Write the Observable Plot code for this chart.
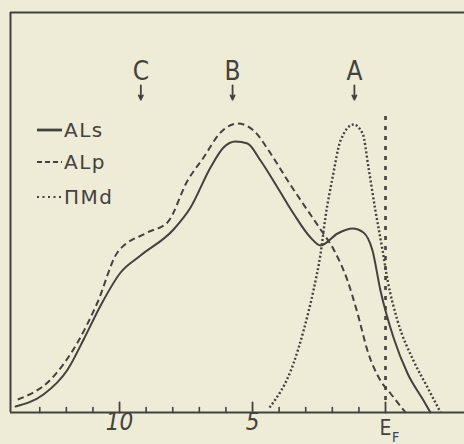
<!DOCTYPE html>
<html><head><meta charset="utf-8">
<script src="https://cdn.jsdelivr.net/npm/d3@7"></script>
<script src="https://cdn.jsdelivr.net/npm/@observablehq/plot@0.6"></script>
<style>
html,body{margin:0;padding:0;background:#eeebd7;}
#chart{width:464px;height:444px;}
</style></head><body><div id="chart"></div>
<script>
// Binding energy (eV below E_F) and intensity (arb. units)
const alsEnergy = [13.91,12.86,11.95,11.35,10.71,9.96,9.21,7.97,7.33,6.58,6.09,5.64,5.19,4.70,4.06,3.46,2.82,2.44,1.80,1.24,0.83,0.49,0.19,-0.30,-0.83,-1.43,-1.69];
const alsIntensity = [1.5,4.5,10.75,18.25,26.75,35,39.25,45.75,51.25,61.25,66.25,67.75,67.25,63,56.25,49.75,43.75,41.75,44.75,46,45,40.5,30.5,18.75,9.75,3,0];

const alpEnergy = [13.83,12.59,11.58,10.83,10.08,8.95,8.20,7.44,6.84,6.20,5.56,4.96,4.32,3.68,3.08,2.44,1.95,1.43,1.05,0.68,0.19,-0.19,-0.75];
const alpIntensity = [3.25,8.25,17.5,27.5,40,45,47.5,58,63.75,70,72.25,70.5,64.75,58,52,45.75,40.75,33,24.75,15.5,8,4.75,0];

const pmdEnergy = [4.36,3.46,3.08,2.71,2.44,2.26,1.99,1.69,1.20,0.86,0.64,0.38,0.11,-0.08,-0.45,-1.05,-1.58,-2.07];
const pmdIntensity = [1.25,12.25,20.5,30.5,39.75,48.75,58.75,68,72,69.75,61.25,50.5,40.5,33,23,13,6.25,0];

const fermiEnergy = 0;
const fermiLineRange = [3, 74.5];

const peakLabels = ["C","B","A"];
const peakEnergies = [9.2, 5.75, 1.17];
const peakLabelLevel = 85.3;
const peakArrowRange = [81.8, 78.2];

const majorTicks = [10, 5, 0];
const majorTickLabels = ["10", "5", ""];
const fermiLabel = "E";
const fermiSub = "F";
const minorTicks = [13,12,11,9,8,7,6,4,3,2,1];

const legendLabels = ["ALs","ALp","ПМd"];

const xDomain = [14.1, -2.97];
const yDomain = [0, 100];

const ink = "#43423d";
const condensed = "'DejaVu Sans Condensed', 'DejaVu Sans', sans-serif";

const series = [
  ...alsEnergy.map((e,i)=>({series:"ALs", e, v: alsIntensity[i]})),
  ...alpEnergy.map((e,i)=>({series:"ALp", e, v: alpIntensity[i]})),
  ...pmdEnergy.map((e,i)=>({series:"ПМd", e, v: pmdIntensity[i]}))
];
const peaks = peakLabels.map((t,i)=>({t, e: peakEnergies[i]}));
const majors = majorTicks.map((e,i)=>({e, t: majorTickLabels[i]}));

const tickShape = {draw(ctx, l){ ctx.moveTo(0,0); ctx.lineTo(0,-l); }};

const styles = {
  "ALs": {dash: null, width: 2, cap: "round"},
  "ALp": {dash: "6.5,4", width: 2, cap: "butt"},
  "ПМd": {dash: "2,2.2", width: 2.4, cap: "butt"}
};

function legendMark(index, scales, values, dimensions) {
  const g = d3.create("svg:g");
  const x0 = dimensions.marginLeft + 27, x1 = dimensions.marginLeft + 52;
  const rows = [118, 150, 185];
  legendLabels.forEach((label, i) => {
    const y = dimensions.marginTop + rows[i];
    g.append("line").attr("x1", x0).attr("x2", x1).attr("y1", y).attr("y2", y)
      .attr("stroke", ink).attr("stroke-width", i === 0 ? 2.8 : 2.2)
      .attr("stroke-dasharray", i === 0 ? null : (i === 1 ? "5,3" : "2,3.5")).attr("stroke-linecap", "butt");
    g.append("text").attr("x", x1 + 2).attr("y", y).attr("dy", "0.36em")
      .attr("text-anchor", "start")
      .attr("fill", ink).attr("font-family", "DejaVu Sans").attr("font-size", 20)
      .attr("letter-spacing", 1.5).text(label);
  });
  return g.node();
}

const chart = Plot.plot({
  width: 464,
  height: 444,
  marginLeft: 10,
  marginRight: 0,
  marginTop: 12,
  marginBottom: 32,
  style: {background: "transparent", color: ink},
  x: {domain: xDomain, axis: null},
  y: {domain: yDomain, axis: null},
  marks: [
    // frame
    Plot.ruleX([xDomain[0]], {stroke: ink, strokeWidth: 2}),
    Plot.ruleY([yDomain[1]], {stroke: ink, strokeWidth: 2}),
    Plot.ruleY([0], {stroke: ink, strokeWidth: 2.2}),
    // ticks
    Plot.vector(minorTicks, {x: d=>d, frameAnchor: "bottom", anchor: "start", length: 5, shape: tickShape, stroke: ink, strokeWidth: 1.6}),
    Plot.vector(majorTicks, {x: d=>d, frameAnchor: "bottom", anchor: "start", length: 10, shape: tickShape, stroke: ink, strokeWidth: 1.8}),
    Plot.text(majors, {x: "e", text: "t", frameAnchor: "bottom", dy: 17, fill: ink,
      fontFamily: condensed, fontStyle: "oblique", fontSize: 24}),
    Plot.text([fermiLabel], {x: fermiEnergy, text: d=>d, frameAnchor: "bottom", dy: 22, fill: ink,
      fontFamily: condensed, fontSize: 21}),
    Plot.text([fermiSub], {x: fermiEnergy, text: d=>d, frameAnchor: "bottom", dx: 10, dy: 29, fill: ink,
      fontFamily: condensed, fontSize: 14}),
    // Fermi level
    Plot.ruleX([fermiEnergy], {y1: fermiLineRange[0], y2: fermiLineRange[1], stroke: ink, strokeWidth: 2.6, strokeDasharray: "4,6"}),
    // curves
    ...Object.keys(styles).map(k => Plot.line(series.filter(d=>d.series===k), {
      x: "e", y: "v", curve: "monotone-x", stroke: ink, strokeWidth: styles[k].width,
      strokeDasharray: styles[k].dash, strokeLinecap: styles[k].cap
    })),
    // peak labels and arrows
    Plot.text(peaks, {x: "e", y: () => peakLabelLevel, text: "t", fill: ink,
      fontFamily: condensed, fontSize: 26}),
    Plot.arrow(peaks, {x: "e", y1: () => peakArrowRange[0], y2: () => peakArrowRange[1],
      stroke: ink, strokeWidth: 1.8, headLength: 6, headAngle: 50}),
    legendMark
  ]
});
document.getElementById("chart").appendChild(chart);
</script>
</body></html>
